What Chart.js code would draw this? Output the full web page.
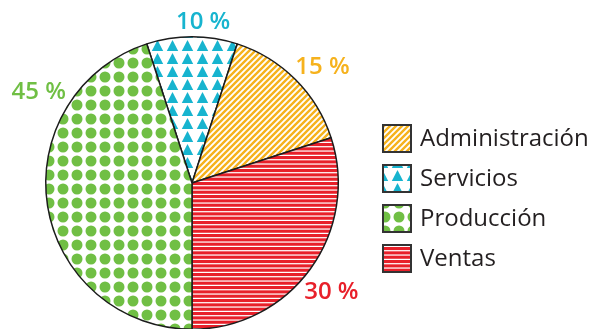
<!DOCTYPE html>
<html>
<head>
<meta charset="utf-8">
<script src="https://cdn.jsdelivr.net/npm/chart.js@4"></script>
<style>
  html, body { margin: 0; padding: 0; background: #fff; overflow: hidden; }
  #wrap { position: relative; width: 597px; height: 340px; }
</style>
</head>
<body>
<div id="wrap"><canvas id="pie-chart"></canvas></div>
<script>
// areas, clockwise from the top
const areas = ["Servicios", "Administración", "Ventas", "Producción"];
const shares = [10, 15, 30, 45];
const colors = ["#17b4cf", "#f6b21d", "#e8202a", "#70bf44"];
// legend goes in its own order
const legendOrder = [1, 0, 3, 2];
// where each % label sits: fraction along the arc, gap outside the rim
const labelFrac = [0.61, 0.565, 0.52, 0.745];
const labelGap = [15, 28, 31, 32];

function makeTile(w, h, paint) {
    var c = document.createElement("canvas");
    c.width = w; c.height = h;
    var g = c.getContext("2d");
    g.fillStyle = "#fff";
    g.fillRect(0, 0, w, h);
    paint(g, w, h);
    return c;
}

var tiles = [
    // triangles
    makeTile(15, 13, function (g, w, h) {
        g.fillStyle = colors[0];
        g.beginPath();
        g.moveTo(7.5, 1);
        g.lineTo(13.2, 12);
        g.lineTo(1.8, 12);
        g.closePath();
        g.fill();
    }),
    // diagonal stripes
    makeTile(6, 6, function (g, w, h) {
        g.strokeStyle = colors[1];
        g.lineWidth = 2.4;
        g.beginPath();
        for (var k = -1; k <= 1; k++) {
            g.moveTo(k * w - 1, h + 1);
            g.lineTo(k * w + w + 1, -1);
        }
        g.stroke();
    }),
    // horizontal stripes
    makeTile(8, 13, function (g, w, h) {
        g.fillStyle = colors[2];
        for (var i = 0; i < 3; i++) g.fillRect(0, i * 13 / 3, w, 3.1);
    }),
    // dots
    makeTile(14, 14, function (g, w, h) {
        g.fillStyle = colors[3];
        g.beginPath();
        g.arc(7, 7, 5.5, 0, Math.PI * 2);
        g.fill();
    })
];

var ctx = document.getElementById("pie-chart").getContext("2d");
var patterns = tiles.map(function (t) { return ctx.createPattern(t, "repeat"); });

// percent labels outside the rim
const pctLabels = {
    id: "pctLabels",
    afterDatasetsDraw: function (chart) {
        var c = chart.ctx;
        var meta = chart.getDatasetMeta(0);
        c.save();
        c.font = "600 24px 'Open Sans'";
        c.textAlign = "center";
        c.textBaseline = "middle";
        meta.data.forEach(function (arc, i) {
            var p = arc.getProps(["x", "y", "startAngle", "endAngle", "outerRadius"], true);
            var a = p.startAngle + labelFrac[i] * (p.endAngle - p.startAngle);
            var r = p.outerRadius + labelGap[i];
            c.fillStyle = colors[i];
            c.fillText(shares[i] + " %", p.x + r * Math.cos(a), p.y + r * Math.sin(a));
        });
        c.restore();
    }
};

// legend with patterned boxes
const boxLegend = {
    id: "boxLegend",
    afterDraw: function (chart) {
        var c = chart.ctx;
        var x0 = 383, y0 = 125, step = 40, bw = 28, bh = 27;
        c.save();
        c.font = "24px 'Open Sans'";
        c.textBaseline = "middle";
        legendOrder.forEach(function (idx, row) {
            var y = y0 + row * step;
            c.fillStyle = patterns[idx];
            c.fillRect(x0, y, bw, bh);
            c.strokeStyle = "#333";
            c.lineWidth = 2;
            c.strokeRect(x0, y, bw, bh);
            c.fillStyle = "#231f20";
            c.fillText(areas[idx], x0 + 37, y + bh / 2 + 1);
        });
        c.restore();
    }
};

var myChart = new Chart(ctx, {
    type: "pie",
    data: {
        labels: areas,
        datasets: [{
            data: shares,
            backgroundColor: patterns,
            borderColor: "#1c1c1c",
            borderWidth: 1.5
        }]
    },
    options: {
        responsive: true,
        maintainAspectRatio: false,
        animation: false,
        rotation: -18,
        layout: {
            padding: { left: 45, right: 258, top: 36, bottom: 10 }
        },
        plugins: {
            legend: { display: false },
            tooltip: { enabled: false }
        }
    },
    plugins: [pctLabels, boxLegend]
});
</script>
</body>
</html>
